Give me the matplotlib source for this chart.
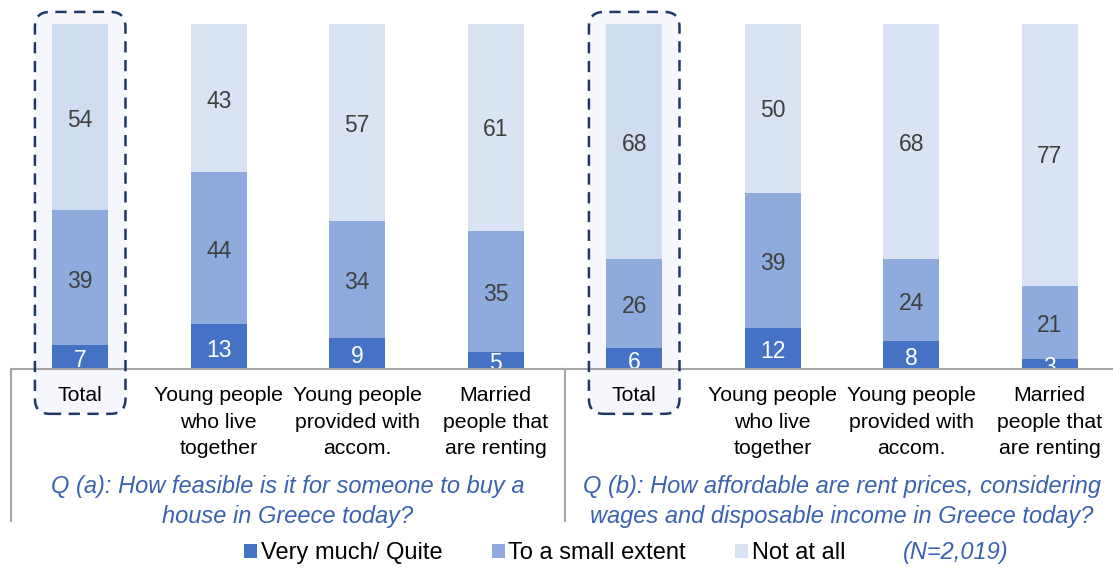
import matplotlib
matplotlib.use('Agg')
from matplotlib import pyplot as plt
from matplotlib.patches import FancyBboxPatch
from matplotlib.transforms import IdentityTransform
import numpy as np

plt.rcParams['font.family'] = ['Liberation Sans', 'DejaVu Sans']

categories = ['Total', 'Young people\nwho live\ntogether', 'Young people\nprovided with\naccom.',
              'Married\npeople that\nare renting']
series_names = ['Very much/ Quite', 'To a small extent', 'Not at all']
# Q (a) buy a house, Q (b) rent prices
very_much = [7, 13, 9, 5, 6, 12, 8, 3]
small_extent = [39, 44, 34, 35, 26, 39, 24, 21]
not_at_all = [54, 43, 57, 61, 68, 50, 68, 77]
questions = ['Q (a): How feasible is it for someone to buy a\nhouse in Greece today?',
             'Q (b): How affordable are rent prices, considering\nwages and disposable income in Greece today?']
sample_note = '(N=2,019)'

DARK = '#4472c4'
MID = '#8faadc'
LIGHT = '#dae3f3'
LIGHT_TOTAL = '#d0dcef'
LABEL = '#404040'
QBLUE = '#3a62b0'
GREY = '#a6a6a6'

W, H = 1113, 568
fig = plt.figure(figsize=(W / 100, H / 100), dpi=100)
# y=0 at 369px from top, 100 -> 24px; x unit 138.5px
ax = fig.add_axes([10.95 / W, (H - 369) / H, 1108 / W, 345 / H])
ax.patch.set_visible(False)
for s in ax.spines.values():
    s.set_visible(False)

x = np.arange(8)
bw = 0.402
light_cols = [LIGHT_TOTAL if i % 4 == 0 else LIGHT for i in range(8)]
b1 = ax.bar(x, very_much, bw, color=DARK, zorder=2, label=series_names[0])
b2 = ax.bar(x, small_extent, bw, bottom=very_much, color=MID, zorder=2, label=series_names[1])
bottom3 = np.array(very_much) + np.array(small_extent)
b3 = ax.bar(x, not_at_all, bw, bottom=bottom3, color=light_cols, zorder=2, label=series_names[2])

dy = -1.0  # labels sit a touch low in the original
for i in range(8):
    ax.text(x[i], very_much[i] / 2 + dy, str(very_much[i]), ha='center', va='center',
            color='white', fontsize=16.5, zorder=3)
    ax.text(x[i], very_much[i] + small_extent[i] / 2 + dy, str(small_extent[i]), ha='center',
            va='center', color=LABEL, fontsize=16.5, zorder=3)
    ax.text(x[i], bottom3[i] + not_at_all[i] / 2 + dy, str(not_at_all[i]), ha='center',
            va='center', color=LABEL, fontsize=16.5, zorder=3)

ax.set_xlim(-0.5, 7.5)
ax.set_ylim(0, 100)
ax.set_yticks([])
ax.set_xticks(x, categories * 2, fontsize=15.3, linespacing=1.5)
ax.tick_params(axis='x', length=0, pad=12.5)

# baseline and separators
ax.axhline(0, color=GREY, lw=1.5, zorder=4, clip_on=False)
for xs in (-0.5, 3.5):
    ax.plot([xs, xs], [0, -44], color=GREY, lw=1.5, clip_on=False, zorder=4)

# question captions
for q, xc in zip(questions, (1.5, 5.5)):
    ax.text(xc, -38.5, q, ha='center', va='center', fontsize=17, style='italic',
            color=QBLUE, linespacing=1.4, clip_on=False)

# highlight boxes round the Total bars (pixel coords)
fig.canvas.draw()
for xc in (0, 4):
    (x0, y0) = ax.transData.transform((xc - 0.327, -13))
    (x1, y1) = ax.transData.transform((xc + 0.327, 103.5))
    fill = FancyBboxPatch((x0, y0), x1 - x0, y1 - y0, boxstyle='round,pad=0,rounding_size=15',
                          transform=IdentityTransform(), facecolor='#f5f7fc', edgecolor='none',
                          zorder=0.5, clip_on=False)
    edge = FancyBboxPatch((x0, y0), x1 - x0, y1 - y0, boxstyle='round,pad=0,rounding_size=15',
                          transform=IdentityTransform(), facecolor='none', edgecolor='#1f3864',
                          lw=1.8, ls=(0, (4.5, 3)), zorder=5, clip_on=False)
    ax.add_artist(fill)
    ax.add_artist(edge)

fig.legend(handles=[b1, b2, b3.patches[1]], labels=series_names, loc='center left',
           bbox_to_anchor=(244 / W, 1 - 553 / H), ncol=3, frameon=False, fontsize=17,
           handlelength=0.55, handleheight=0.55, handletextpad=0.15, columnspacing=2.1,
           borderpad=0, borderaxespad=0)
fig.text(903 / W, 1 - 553 / H, sample_note, ha='left', va='center', fontsize=17,
         style='italic', color=QBLUE)

plt.savefig('out.png', dpi=100)
